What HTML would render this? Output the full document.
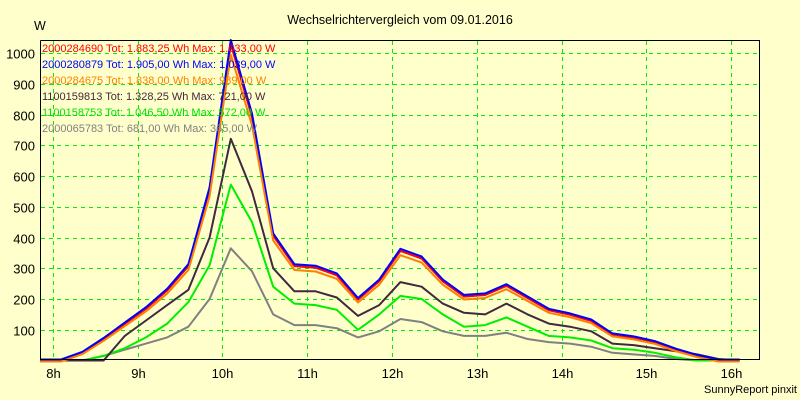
<!DOCTYPE html>
<html><head><meta charset="utf-8"><style>
html,body{margin:0;padding:0;background:#ffffcc;}
svg{display:block;font-family:"Liberation Sans",sans-serif;}
</style></head><body>
<svg id="s" width="800" height="400" xmlns="http://www.w3.org/2000/svg">
<rect width="800" height="400" fill="#ffffcc"/>
<g id="grid" stroke="#00ee00" stroke-width="1" stroke-dasharray="4,4"></g>
<g id="lines" fill="none" stroke-width="2" stroke-linejoin="round"></g>
<path d="M40.5 40.5 V359.5 H759.5 V40.5 H40.5" fill="none" stroke="#000" stroke-width="1"/>
<text x="400" y="24" font-size="12.5" text-anchor="middle">Wechselrichtervergleich vom 09.01.2016</text>
<text x="34" y="30" font-size="12.5">W</text>
<g id="yl" font-size="13" text-anchor="end"></g>
<g id="xl" font-size="13" text-anchor="middle"></g>
<text x="797" y="393" font-size="11" text-anchor="end">SunnyReport pinxit</text>
<g font-size="11">
<text x="42" y="52" fill="#ff0000">2000284690 Tot: 1.883,25 Wh Max: 1.033,00 W</text>
<text x="42" y="68" fill="#0000ff">2000280879 Tot: 1.905,00 Wh Max: 1.039,00 W</text>
<text x="42" y="84" fill="#ff8000">2000284675 Tot: 1.838,00 Wh Max: 989,00 W</text>
<text x="42" y="100" fill="#40283e">1100159813 Tot: 1.328,25 Wh Max: 721,00 W</text>
<text x="42" y="116" fill="#00e000">1100158753 Tot: 1.046,50 Wh Max: 572,00 W</text>
<text x="42" y="132" fill="#808080">2000065783 Tot: 681,00 Wh Max: 365,00 W</text>
</g>
</svg>
<script>
var NS="http://www.w3.org/2000/svg";
function el(p,t,a){var e=document.createElementNS(NS,t);for(var k in a)e.setAttribute(k,a[k]);p.appendChild(e);return e;}
function Y(v){return 360.5-0.3075*v;}
var g=document.getElementById('grid'),yl=document.getElementById('yl'),xl=document.getElementById('xl');
for(var v=100;v<=1000;v+=100){var y=Math.round(Y(v))+0.5;el(g,'line',{x1:41,x2:759,y1:y,y2:y});var t=el(yl,'text',{x:35,y:y+5});t.textContent=v;}
for(var h=0;h<9;h++){var x=Math.round(52.7+84.8*h)+0.5;el(g,'line',{x1:x,x2:x,y1:41,y2:359});var t=el(xl,'text',{x:x,y:378});t.textContent=(8+h)+'h';}
var xs=[];for(var i=0;i<34;i++)xs.push(Math.min(759,40+i*21.2));
var blue=[0,0,25,70,120,170,230,310,560,1039,800,410,310,305,280,200,260,360,335,260,210,215,245,205,165,150,130,85,75,60,35,15,0,0];
var dark=[0,0,0,0,80,130,180,230,400,721,550,300,225,225,205,145,180,255,240,185,155,150,185,150,120,110,95,55,50,40,30,20,5,0];
var green=[0,0,0,15,40,75,120,190,310,572,450,240,185,180,165,100,150,210,200,150,110,115,140,110,80,75,65,40,35,25,10,0,0,0];
var gray=[0,0,0,15,35,55,75,110,200,365,290,150,115,115,105,75,95,135,125,95,80,80,90,70,60,55,45,25,20,15,5,0,0,0];
function draw(d,c,f,off){var p=[];for(var i=0;i<34;i++){var v=(d[i]||0)*f;p.push(xs[i].toFixed(1)+','+(Y(v)+off).toFixed(1));}
el(document.getElementById('lines'),'polyline',{points:p.join(' '),stroke:c});}
draw(gray,'#808080',1,0);
draw(green,'#00ee00',1,0);
draw(dark,'#40283e',1,0);
draw(blue,'#ff0000',0.99,0);
draw(blue,'#0000ff',1,-1);
draw(blue,'#ff8000',0.96,1);
</script>
</body></html>
